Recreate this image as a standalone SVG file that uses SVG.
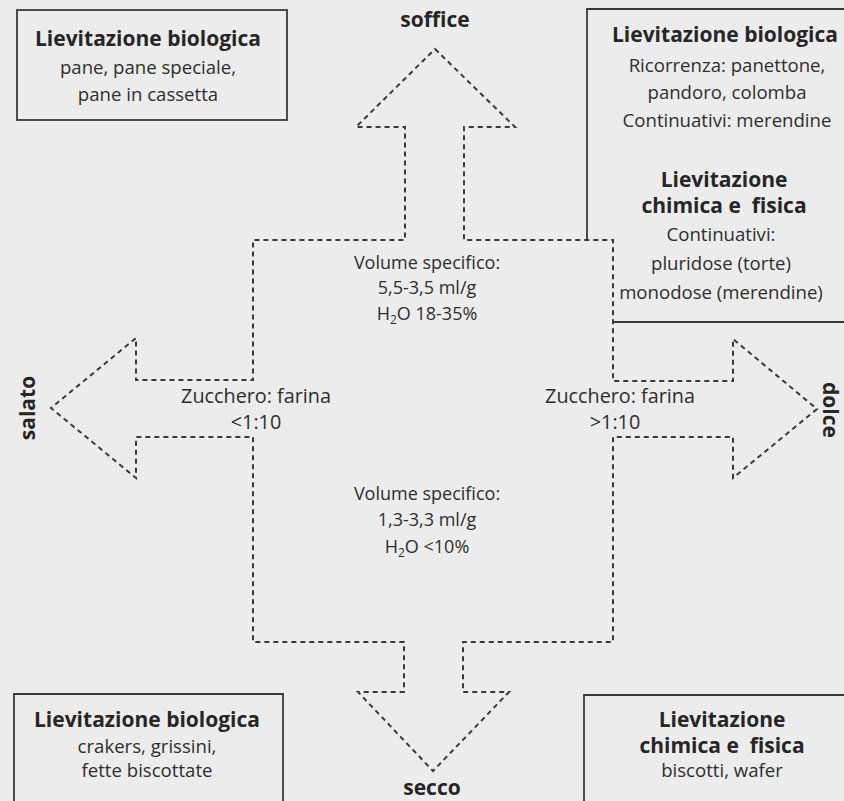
<svg xmlns="http://www.w3.org/2000/svg" width="844" height="801" viewBox="0 0 844 801">
<style>
.bg{fill:#ececec}
.box{fill:none;stroke:#3a3a3a;stroke-width:1.8}
.dash{fill:none;stroke:#3a3a3a;stroke-width:2;stroke-dasharray:5 4}
text{font-family:"Open Sans","Noto Sans","DejaVu Sans",sans-serif;fill:#2e2e2e;text-anchor:middle}
.b{font-weight:bold;font-size:21px;fill:#262626}
.r{font-size:18.6px}
.c{font-size:18px}
.z{font-size:19.8px}
.sub{font-size:12px}
</style>
<rect class="bg" x="0" y="0" width="844" height="801"/>
<g id="connectors">
<path class="dash" d="M435,49 L515,127 L464,127 L464,240 L613,240 L613,381 L733,381 L733,339 L817,409 L733,478 L733,437 L613,437 L613,642 L463,642 L463,692 L509,692 L433,771 L358,692 L404,692 L404,642 L253,642 L253,437 L136,437 L136,478 L51,408 L136,338 L136,380 L253,380 L253,240 L405,240 L405,127 L356,127 Z"/>
</g>
<g id="box-top-left">
<rect class="box" x="17" y="10" width="270" height="110"/>
<text class="b" x="148" y="46">Lievitazione biologica</text>
<text class="r" x="148" y="74">pane, pane speciale,</text>
<text class="r" x="148" y="101">pane in cassetta</text>
</g>
<g id="box-top-right">
<path class="box" d="M844,9 H587 V240"/>
<path class="box" d="M613,322 H844"/>
<text class="b" x="725" y="42">Lievitazione biologica</text>
<text class="r" x="727" y="72">Ricorrenza: panettone,</text>
<text class="r" x="727" y="99">pandoro, colomba</text>
<text class="r" x="727" y="127">Continuativi: merendine</text>
<text class="b" x="724" y="187">Lievitazione</text>
<text class="b" x="724" y="213" xml:space="preserve">chimica e  fisica</text>
<text class="r" x="721" y="241">Continuativi:</text>
<text class="r" x="721" y="270">pluridose (torte)</text>
<text class="r" x="721" y="299">monodose (merendine)</text>
</g>
<g id="box-bottom-left">
<path class="box" d="M14,801 V694 H283 V801"/>
<text class="b" x="147" y="727">Lievitazione biologica</text>
<text class="r" x="147" y="753">crakers, grissini,</text>
<text class="r" x="147" y="777">fette biscottate</text>
</g>
<g id="box-bottom-right">
<path class="box" d="M584,801 V695 H844"/>
<text class="b" x="722" y="727">Lievitazione</text>
<text class="b" x="722" y="753" xml:space="preserve">chimica e  fisica</text>
<text class="r" x="722" y="777">biscotti, wafer</text>
</g>
<g id="center-top">
<text class="c" x="427" y="269">Volume specifico:</text>
<text class="c" x="427" y="294">5,5-3,5 ml/g</text>
<text class="c" x="427" y="320">H<tspan class="sub" dy="4">2</tspan><tspan dy="-4">O 18-35%</tspan></text>
</g>
<g id="center-bottom">
<text class="c" x="427" y="500">Volume specifico:</text>
<text class="c" x="427" y="526">1,3-3,3 ml/g</text>
<text class="c" x="427" y="553">H<tspan class="sub" dy="4">2</tspan><tspan dy="-4">O &lt;10%</tspan></text>
</g>
<g id="center-left">
<text class="z" x="256" y="403">Zucchero: farina</text>
<text class="z" x="256" y="429">&lt;1:10</text>
</g>
<g id="center-right">
<text class="z" x="620" y="403">Zucchero: farina</text>
<text class="z" x="615" y="429">&gt;1:10</text>
</g>
<g id="label-soffice"><text class="b" x="435" y="27">soffice</text></g>
<g id="label-secco"><text class="b" x="432" y="795">secco</text></g>
<g id="label-salato"><text class="b" transform="translate(35,408) rotate(-90)">salato</text></g>
<g id="label-dolce"><text class="b" transform="translate(823,410) rotate(90)">dolce</text></g>
</svg>
